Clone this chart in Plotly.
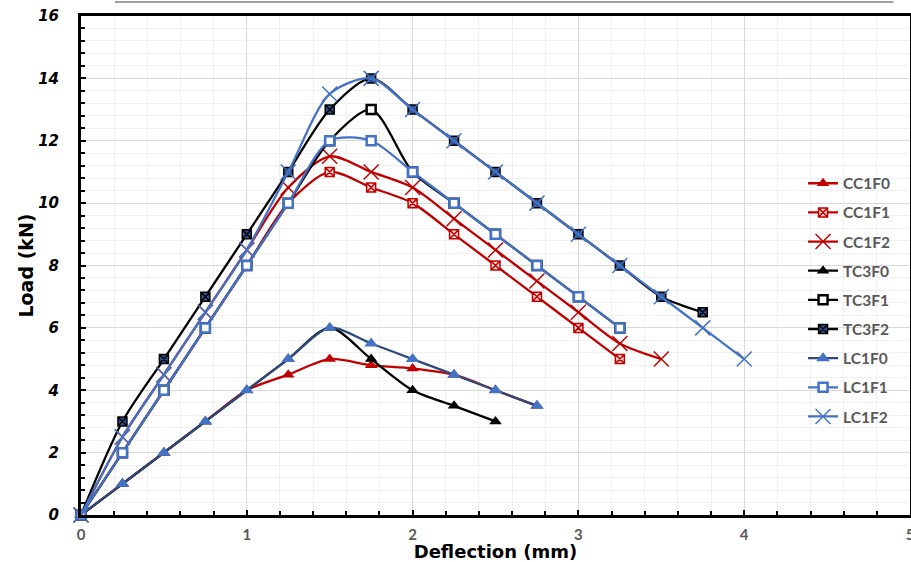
import plotly.graph_objects as go

# ---- data (deflection mm, load kN) ----
x_cc1f0 = [0, 0.25, 0.5, 0.75, 1, 1.25, 1.5, 1.75, 2, 2.25, 2.5, 2.75]
y_cc1f0 = [0, 1, 2, 3, 4, 4.5, 5, 4.8, 4.7, 4.5, 4, 3.5]

x_cc1f1 = [0, 0.25, 0.5, 0.75, 1, 1.25, 1.5, 1.75, 2, 2.25, 2.5, 2.75, 3, 3.25]
y_cc1f1 = [0, 2, 4, 6, 8, 10, 11, 10.5, 10, 9, 8, 7, 6, 5]

x_cc1f2 = [0, 0.25, 0.5, 0.75, 1, 1.25, 1.5, 1.75, 2, 2.25, 2.5, 2.75, 3, 3.25, 3.5]
y_cc1f2 = [0, 2.5, 4.5, 6.5, 8.5, 10.5, 11.5, 11, 10.5, 9.5, 8.5, 7.5, 6.5, 5.5, 5]

x_tc3f0 = [0, 0.25, 0.5, 0.75, 1, 1.25, 1.5, 1.75, 2, 2.25, 2.5]
y_tc3f0 = [0, 1, 2, 3, 4, 5, 6, 5, 4, 3.5, 3]

x_tc3f1 = [0, 0.25, 0.5, 0.75, 1, 1.25, 1.5, 1.75, 2, 2.25, 2.5, 2.75, 3, 3.25]
y_tc3f1 = [0, 2, 4, 6, 8, 10, 12, 13, 11, 10, 9, 8, 7, 6]

x_tc3f2 = [0, 0.25, 0.5, 0.75, 1, 1.25, 1.5, 1.75, 2, 2.25, 2.5, 2.75, 3, 3.25, 3.5, 3.75]
y_tc3f2 = [0, 3, 5, 7, 9, 11, 13, 14, 13, 12, 11, 10, 9, 8, 7, 6.5]

x_lc1f0 = [0, 0.25, 0.5, 0.75, 1, 1.25, 1.5, 1.75, 2, 2.25, 2.5, 2.75]
y_lc1f0 = [0, 1, 2, 3, 4, 5, 6, 5.5, 5, 4.5, 4, 3.5]

x_lc1f1 = [0, 0.25, 0.5, 0.75, 1, 1.25, 1.5, 1.75, 2, 2.25, 2.5, 2.75, 3, 3.25]
y_lc1f1 = [0, 2, 4, 6, 8, 10, 12, 12, 11, 10, 9, 8, 7, 6]

x_lc1f2 = [0, 0.25, 0.5, 0.75, 1, 1.25, 1.5, 1.75, 2, 2.25, 2.5, 2.75, 3, 3.25, 3.5, 3.75, 4]
y_lc1f2 = [0, 2.5, 4.5, 6.5, 8.5, 11, 13.5, 14, 13, 12, 11, 10, 9, 8, 7, 6, 5]

x_ticks = [0, 1, 2, 3, 4, 5]
y_ticks = [0, 2, 4, 6, 8, 10, 12, 14, 16]

RED = "#C00000"
BLUE = "#4472C4"
NAVY = "#2F4A7A"

series = [
    ("CC1F0", x_cc1f0, y_cc1f0, RED, dict(symbol="triangle-up", size=11, color=RED)),
    ("CC1F1", x_cc1f1, y_cc1f1, RED, dict(symbol="square-x", size=9, color="#F6D5D5", line=dict(color=RED, width=1.5))),
    ("CC1F2", x_cc1f2, y_cc1f2, RED, dict(symbol="x-thin-open", size=15, color=RED, line=dict(color=RED, width=1.5))),
    ("TC3F0", x_tc3f0, y_tc3f0, "black", dict(symbol="triangle-up", size=11, color="black")),
    ("TC3F1", x_tc3f1, y_tc3f1, "black", dict(symbol="square", size=9, color="white", line=dict(color="black", width=2.5))),
    ("TC3F2", x_tc3f2, y_tc3f2, "black", dict(symbol="square-x", size=9, color="#2F5597", line=dict(color="black", width=1.5))),
    ("LC1F0", x_lc1f0, y_lc1f0, NAVY, dict(symbol="triangle-up", size=12, color=BLUE)),
    ("LC1F1", x_lc1f1, y_lc1f1, BLUE, dict(symbol="square", size=9, color="white", line=dict(color=BLUE, width=2.5))),
    ("LC1F2", x_lc1f2, y_lc1f2, BLUE, dict(symbol="x-thin-open", size=15, color=BLUE, line=dict(color=BLUE, width=1.5))),
]

fig = go.Figure()
for name, xs, ys, lc, mk in series:
    fig.add_trace(go.Scatter(
        x=xs, y=ys, name=name, mode="lines+markers",
        line=dict(color=lc, width=2.3, shape="spline", smoothing=0.8),
        marker=mk, cliponaxis=False, legendgroup=name,
    ))

fig.update_layout(
    width=911, height=562,
    margin=dict(l=81, r=1, t=16, b=47),
    paper_bgcolor="white", plot_bgcolor="white",
    font=dict(family="Lato, sans-serif"),
    showlegend=True,
    legend=dict(
        x=0.871, y=0.698, xanchor="left", yanchor="top",
        bgcolor="rgba(0,0,0,0)",
        font=dict(size=15.5, color="#595959", family="Lato, sans-serif", weight="bold"),
        tracegroupgap=6,
    ),
)

fig.update_xaxes(
    range=[0, 5], tickvals=x_ticks, ticktext=[str(v) for v in x_ticks],
    automargin=False, ticklabeloverflow="allow",
    showline=True, linecolor="black", linewidth=3, mirror=True,
    ticks="inside", ticklen=5, tickwidth=2, tickcolor="black",
    showgrid=True, gridcolor="#D9D9D9", gridwidth=1,
    minor=dict(dtick=0.2, ticks="inside", ticklen=4, tickwidth=2, tickcolor="black",
               showgrid=True, gridcolor="#F0F0F0", gridwidth=1),
    tickfont=dict(size=15, color="#595959", weight="bold"),
    ticklabelstandoff=4,
    zeroline=False,
    title=dict(text="Deflection (mm)",
               font=dict(size=18, color="black", weight="bold", family="DejaVu Sans, sans-serif"),
               standoff=2),
)
fig.update_yaxes(
    range=[0, 16], tickvals=y_ticks, ticktext=[str(v) for v in y_ticks],
    automargin=False,
    showline=True, linecolor="black", linewidth=3, mirror=True,
    ticks="inside", ticklen=5, tickwidth=2, tickcolor="black",
    showgrid=True, gridcolor="#D9D9D9", gridwidth=1,
    minor=dict(dtick=0.4, ticks="inside", ticklen=4, tickwidth=2, tickcolor="black",
               showgrid=True, gridcolor="#F0F0F0", gridwidth=1),
    tickfont=dict(size=15, color="black", weight="bold", style="italic",
                  family="DejaVu Sans, sans-serif"),
    ticklabelstandoff=16,
    zeroline=False,
    title=dict(text="Load (kN)",
               font=dict(size=19, color="black", weight="bold", family="DejaVu Sans, sans-serif"),
               standoff=0),
)

fig.add_shape(type="line", xref="paper", yref="paper",
              x0=0.041, x1=0.98, y0=1.028, y1=1.028,
              line=dict(color="#808080", width=1.5))

fig.write_html("out.html", config={"displayModeBar": False},
               post_script="document.body.style.margin='0';document.body.style.overflow='hidden';")
